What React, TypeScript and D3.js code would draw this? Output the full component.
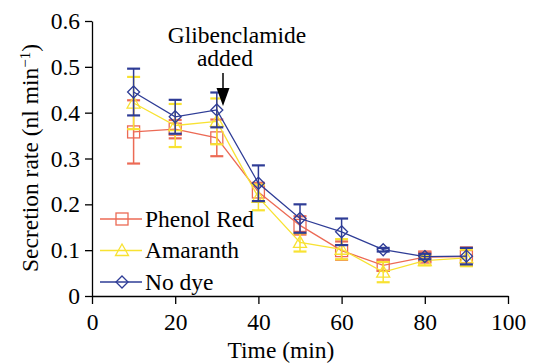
import * as d3 from "d3";
import { useRef, useEffect } from "react";

// time points (min)
const times = [10, 20, 30, 40, 50, 60, 70, 80, 90];

// series: mean and error
const phenolRed = [0.358, 0.364, 0.345, 0.227, 0.154, 0.099, 0.067, 0.085, 0.086];
const phenolRedErr = [0.069, 0.02, 0.04, 0.02, 0.02, 0.02, 0.012, 0.01, 0.02];
const amaranth = [0.421, 0.372, 0.381, 0.215, 0.117, 0.102, 0.052, 0.077, 0.083];
const amaranthErr = [0.057, 0.047, 0.05, 0.028, 0.02, 0.022, 0.022, 0.01, 0.018];
const noDye = [0.445, 0.391, 0.406, 0.246, 0.169, 0.14, 0.101, 0.086, 0.087];
const noDyeErr = [0.051, 0.037, 0.038, 0.039, 0.031, 0.029, 0.004, 0.006, 0.018];

const xTicks = [0, 20, 40, 60, 80, 100];
const yTicks = [0, 0.1, 0.2, 0.3, 0.4, 0.5, 0.6];

const series = [
  { name: "Phenol Red", values: phenolRed, err: phenolRedErr, color: "#ec6a55", marker: "square" },
  { name: "Amaranth", values: amaranth, err: amaranthErr, color: "#f8e232", marker: "triangle" },
  { name: "No dye", values: noDye, err: noDyeErr, color: "#2e3c96", marker: "diamond" },
];

const font = "Liberation Serif, Times New Roman, serif";
const fs = 23.5;

export default function App() {
  const svgRef = useRef<SVGSVGElement>(null);

  useEffect(() => {
    const svg = d3.select(svgRef.current);
    svg.selectAll("*").remove();

    const x = d3.scaleLinear().domain([0, 100]).range([92, 508]);
    const y = d3.scaleLinear().domain([0, 0.6]).range([296, 21]);

    // axes
    const xAxis = svg.append("g").attr("transform", `translate(0,${y(0)})`)
      .call(d3.axisBottom(x).tickValues(xTicks).tickSize(8).tickSizeOuter(0).tickPadding(9));
    const yAxis = svg.append("g").attr("transform", `translate(${x(0)},0)`)
      .call(d3.axisLeft(y).tickValues(yTicks).tickSize(7).tickSizeOuter(0).tickPadding(5)
        .tickFormat(d => (d === 0 ? "0" : d3.format(".1f")(d as number))));
    [xAxis, yAxis].forEach(a => {
      a.attr("font-family", font).attr("font-size", fs);
      a.selectAll("path").attr("stroke", "#000").attr("stroke-width", 1.3);
      a.selectAll("line").attr("stroke", "#000").attr("stroke-width", 1.3);
      a.selectAll("text").attr("fill", "#000");
    });

    // axis titles
    svg.append("text").attr("x", 281).attr("y", 358).attr("text-anchor", "middle")
      .attr("font-family", font).attr("font-size", fs).text("Time (min)");
    const yt = svg.append("text").attr("transform", "translate(38,158) rotate(-90)")
      .attr("text-anchor", "middle").attr("font-family", font).attr("font-size", fs);
    yt.append("tspan").text("Secretion rate (nl min");
    yt.append("tspan").attr("dy", -8).attr("font-size", 15).text("\u22121");
    yt.append("tspan").attr("dy", 8).text(")");

    const drawMarker = (g: any, type: string, cx: number, cy: number, color: string) => {
      if (type === "square") {
        g.append("rect").attr("x", cx - 6).attr("y", cy - 6).attr("width", 12).attr("height", 12)
          .attr("fill", "none").attr("stroke", color).attr("stroke-width", 1.3);
      } else if (type === "triangle") {
        g.append("path").attr("d", `M${cx},${cy - 6.5}L${cx + 6.5},${cy + 5}L${cx - 6.5},${cy + 5}Z`)
          .attr("fill", "none").attr("stroke", color).attr("stroke-width", 1.3);
      } else {
        g.append("path").attr("d", `M${cx},${cy - 6}L${cx + 6},${cy}L${cx},${cy + 6}L${cx - 6},${cy}Z`)
          .attr("fill", "none").attr("stroke", color).attr("stroke-width", 1.3);
      }
    };

    const line = d3.line<number>().x((_, i) => x(times[i])).y(d => y(d));

    series.forEach(s => {
      const g = svg.append("g");
      // error bars
      s.values.forEach((v, i) => {
        const cx = x(times[i]);
        const top = y(v + s.err[i]);
        const bot = y(v - s.err[i]);
        g.append("line").attr("x1", cx).attr("x2", cx).attr("y1", top).attr("y2", bot)
          .attr("stroke", s.color).attr("stroke-width", 1.5);
        [top, bot].forEach(yy => {
          g.append("line").attr("x1", cx - 6.5).attr("x2", cx + 6.5).attr("y1", yy).attr("y2", yy)
            .attr("stroke", s.color).attr("stroke-width", 2.2);
        });
      });
      g.append("path").datum(s.values).attr("d", line).attr("fill", "none")
        .attr("stroke", s.color).attr("stroke-width", 1.3);
      s.values.forEach((v, i) => drawMarker(g, s.marker, x(times[i]), y(v), s.color));
    });

    // legend
    series.forEach((s, i) => {
      const ly = 219 + i * 31.5;
      svg.append("line").attr("x1", 100).attr("x2", 142).attr("y1", ly).attr("y2", ly)
        .attr("stroke", s.color).attr("stroke-width", 1.3);
      drawMarker(svg, s.marker, 122, ly, s.color);
      svg.append("text").attr("x", 145).attr("y", ly + 7.5).attr("font-family", font)
        .attr("font-size", fs).text(s.name);
    });

    // annotation
    svg.append("text").attr("x", 237).attr("y", 43).attr("text-anchor", "middle")
      .attr("font-family", font).attr("font-size", fs).text("Glibenclamide");
    svg.append("text").attr("x", 225).attr("y", 66).attr("text-anchor", "middle")
      .attr("font-family", font).attr("font-size", fs).text("added");
    svg.append("line").attr("x1", 223).attr("x2", 223).attr("y1", 73).attr("y2", 90)
      .attr("stroke", "#000").attr("stroke-width", 1.5);
    svg.append("path").attr("d", "M216.5,88L229.5,88L223,106Z").attr("fill", "#000");
  }, []);

  return <svg ref={svgRef} width={533} height={364} style={{ position: "absolute", left: 0, top: 0 }} />;
}
